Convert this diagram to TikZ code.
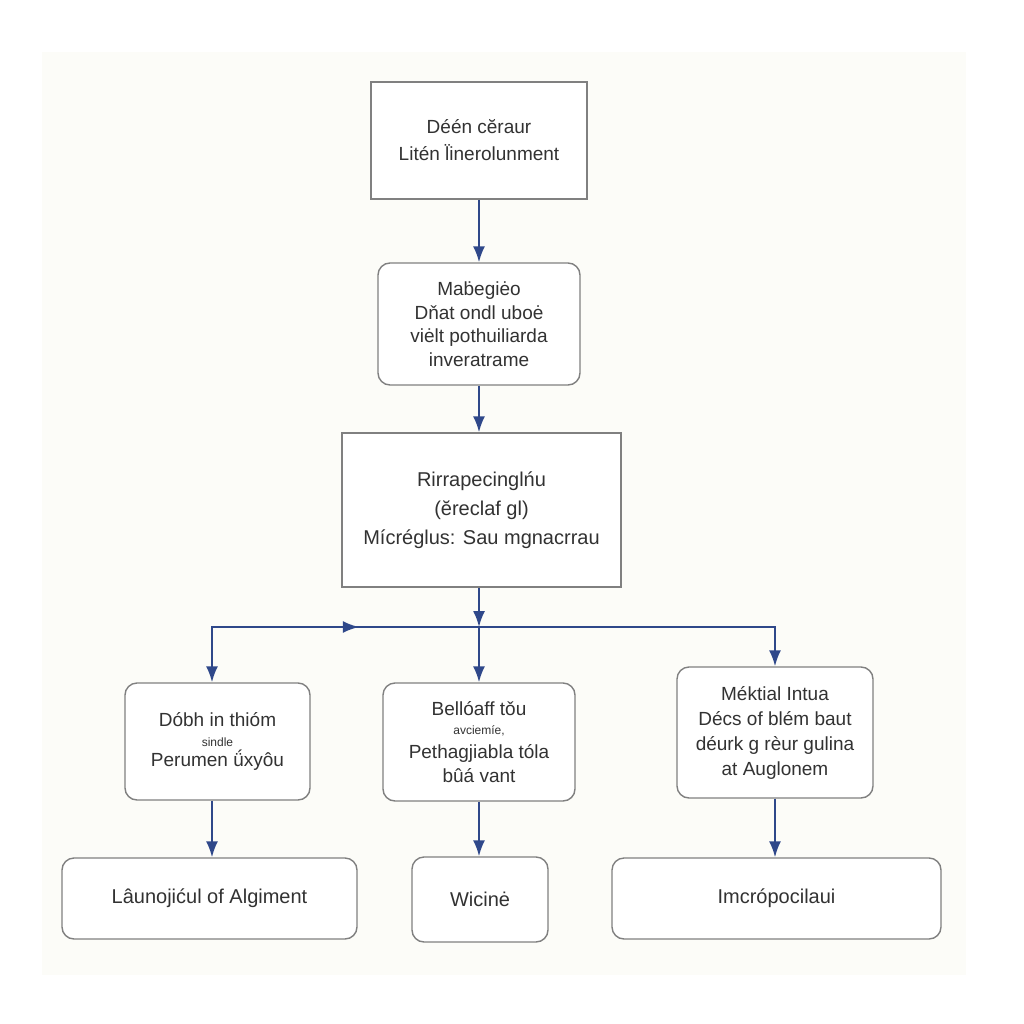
\documentclass[tikz,border=0pt]{standalone}
\usepackage{fontspec}
\setmainfont{Liberation Sans}
\usetikzlibrary{arrows.meta,calc}
\definecolor{flowblue}{RGB}{47,72,138}
\definecolor{boxline}{RGB}{128,128,128}
\definecolor{textgray}{RGB}{50,50,50}
\definecolor{panel}{RGB}{252,252,248}

\begin{document}
\begin{tikzpicture}[x=1pt, y=-1pt, node distance=180pt, auto]
    % Define styles
    \tikzstyle{plainbox} = [rectangle, align=center, draw=boxline, line width=1.4pt, fill=white, text=textgray, inner sep=0pt]
    \tikzstyle{roundbox} = [plainbox, rounded corners=12pt]
    \tikzstyle{arrow} = [line width=1.9pt, draw=flowblue, -{Latex[length=16pt,width=12pt]}]

    % Background
    \fill [white] (0,0) rectangle (1024,1024);
    \fill [panel] (42,52) rectangle (966,975);

    % Process flow
    \node (entry) [plainbox, minimum width=216pt, minimum height=117pt, font=\fontsize{19}{27}\selectfont] at (479,140.5) {Déén cĕraur\\Litén l̈inerolunment};
    \node (review) [roundbox, node distance=183.5pt, below of=entry, minimum width=202pt, minimum height=122pt, font=\fontsize{19}{23.5}\selectfont] {Maḃegiėo\\Dňat ondl uboė\\viėlt pothuiliarda\\inveratrame};
    \node (mixing) [plainbox, node distance=186pt, below of=review, xshift=2.5pt, minimum width=279pt, minimum height=154pt, font=\fontsize{20}{29}\selectfont] {Rirrapecinglńu\\(ĕreclaf gl)\\Mícréglus: Sau mgnacrrau};
    \node (left) [roundbox, node distance=231.5pt, below of=mixing, xshift=-264pt, minimum width=185pt, minimum height=117pt, font=\fontsize{19}{20}\selectfont] {Dóbh in thióm\\{\fontsize{12}{14}\selectfont sindle}\\Perumen ǘxyôu};
    \node (middle) [roundbox, node distance=232pt, below of=mixing, xshift=-2.5pt, minimum width=192pt, minimum height=118pt, font=\fontsize{19}{24}\selectfont] {Bellóaff tǒu\\[-5pt]{\fontsize{12}{14}\selectfont avciemíe,}\\Pethagjiabla tóla\\bûá vant};
    \node (right) [roundbox, node distance=222.5pt, below of=mixing, xshift=293.5pt, minimum width=196pt, minimum height=131pt, font=\fontsize{19}{25}\selectfont] {Méktial Intua\\Décs of blém baut\\déurk g rèur gulina\\at Auglonem};
    \node (launch) [roundbox, node distance=157pt, below of=left, xshift=-8pt, minimum width=295pt, minimum height=81pt, font=\fontsize{20}{24}\selectfont] {Lâunojićul of Algiment};
    \node (final) [roundbox, node distance=157.5pt, below of=middle, xshift=1pt, minimum width=136pt, minimum height=85pt, font=\fontsize{20}{24}\selectfont] {Wicinė};
    \node (impact) [roundbox, node distance=166pt, below of=right, xshift=1.5pt, minimum width=329pt, minimum height=81pt, font=\fontsize{20}{24}\selectfont] {Imcrópocilaui};
    \coordinate (split) at (479,627);

    % Arrows
    \draw [arrow] (entry) -- (review);
    \draw [arrow] (review) -- (review |- mixing.north);
    \draw [arrow] (mixing.south -| split) -- (split);
    \draw [arrow] (split) -| ([xshift=-5.5pt]left.north);
    \draw [arrow] ([xshift=-5.5pt]left.north |- split) -- ($([xshift=-5.5pt]left.north |- split)!0.55!(split)$);
    \draw [arrow] (split) -- (middle);
    \draw [arrow] (split) -| (right);
    \draw [arrow] ([xshift=-5.5pt]left.south) -- ([xshift=-5.5pt]left.south |- launch.north);
    \draw [arrow] (middle) -- (middle |- final.north);
    \draw [arrow] (right) -- (right |- impact.north);

    \useasboundingbox (0,0) rectangle (1024,1024);
\end{tikzpicture}
\end{document}
